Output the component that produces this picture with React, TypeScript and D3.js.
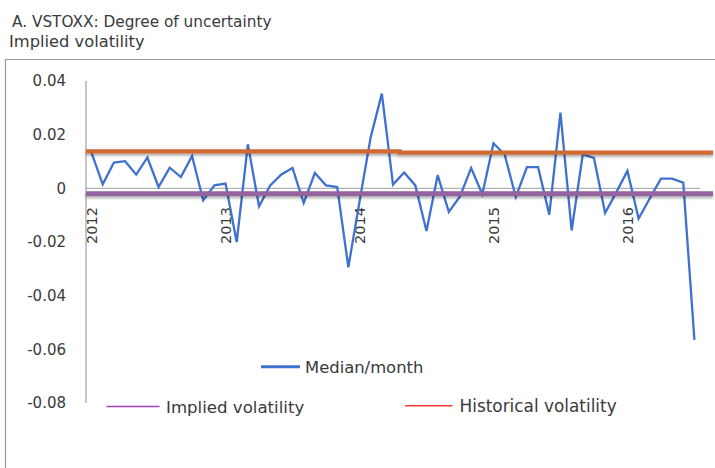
import React from "react";
import * as d3 from "d3";

const months = [
  "2012-01","2012-02","2012-03","2012-04","2012-05","2012-06","2012-07","2012-08","2012-09","2012-10","2012-11","2012-12",
  "2013-01","2013-02","2013-03","2013-04","2013-05","2013-06","2013-07","2013-08","2013-09","2013-10","2013-11","2013-12",
  "2014-01","2014-02","2014-03","2014-04","2014-05","2014-06","2014-07","2014-08","2014-09","2014-10","2014-11","2014-12",
  "2015-01","2015-02","2015-03","2015-04","2015-05","2015-06","2015-07","2015-08","2015-09","2015-10","2015-11","2015-12",
  "2016-01","2016-02","2016-03","2016-04","2016-05","2016-06","2016-07",
];

const yearTicks = ["2012", "2013", "2014", "2015", "2016"];

const medianMonth = [
  0.0132, 0.0015, 0.0096, 0.0101, 0.0051, 0.0115, 0.0005, 0.0077, 0.0042, 0.0121, -0.0045, 0.0011,
  0.0018, -0.0200, 0.0164, -0.0067, 0.0011, 0.0052, 0.0076, -0.0055, 0.0057, 0.0011, 0.0005, -0.0294,
  -0.0050, 0.0190, 0.0353, 0.0014, 0.0059, 0.0011, -0.0159, 0.0049, -0.0088, -0.0030, 0.0076, -0.0022,
  0.0168, 0.0126, -0.0032, 0.0079, 0.0079, -0.0098, 0.0282, -0.0157, 0.0126, 0.0113, -0.0092, -0.0015,
  0.0065, -0.0113, -0.0038, 0.0036, 0.0036, 0.0021, -0.0565,
];

const impliedVol = [
  -0.002, -0.002, -0.002, -0.002, -0.002, -0.002, -0.002, -0.002, -0.002, -0.002, -0.002, -0.002,
  -0.002, -0.002, -0.002, -0.002, -0.002, -0.002, -0.002, -0.002, -0.002, -0.002, -0.002, -0.002,
  -0.002, -0.002, -0.002, -0.002, -0.002, -0.002, -0.002, -0.002, -0.002, -0.002, -0.002, -0.002,
  -0.002, -0.002, -0.002, -0.002, -0.002, -0.002, -0.002, -0.002, -0.002, -0.002, -0.002, -0.002,
  -0.002, -0.002, -0.002, -0.002, -0.002, -0.002, -0.002,
];

const historicalVol = [
  0.0138, 0.0138, 0.0138, 0.0138, 0.0138, 0.0138, 0.0138, 0.0138, 0.0138, 0.0138, 0.0138, 0.0138,
  0.0138, 0.0138, 0.0138, 0.0138, 0.0138, 0.0138, 0.0138, 0.0138, 0.0138, 0.0138, 0.0138, 0.0138,
  0.0138, 0.0138, 0.0138, 0.0133, 0.0133, 0.0133, 0.0133, 0.0133, 0.0133, 0.0133, 0.0133, 0.0133,
  0.0133, 0.0133, 0.0133, 0.0133, 0.0133, 0.0133, 0.0133, 0.0133, 0.0133, 0.0133, 0.0133, 0.0133,
  0.0133, 0.0133, 0.0133, 0.0133, 0.0133, 0.0133, 0.0133,
];

const yTicks = [0.04, 0.02, 0, -0.02, -0.04, -0.06, -0.08];
const yTickLabels = ["0.04", "0.02", "0", "-0.02", "-0.04", "-0.06", "-0.08"];

const FONT = "'DejaVu Sans', Verdana, sans-serif";
const TEXT = "#3a3a3a";

export default function App() {
  const W = 715;
  const H = 468;
  const x = d3.scaleBand<string>().domain(months).range([86, 700]);
  const xc = (m: string) => (x(m) ?? 0) + x.bandwidth() / 2;
  const x2 = d3.scalePoint<number>().domain(d3.range(months.length)).range([86, 713]);
  const y = d3.scaleLinear().domain([-0.08, 0.04]).range([403, 81]);

  const medianLine = d3
    .line<number>()
    .x((_, i) => xc(months[i]))
    .y((d) => y(d));
  const flatLine = d3
    .line<number>()
    .x((_, i) => x2(i) as number)
    .y((d) => y(d))
    .curve(d3.curveStepAfter);

  return (
    <svg
      width={W}
      height={H}
      style={{ position: "absolute", left: 0, top: 0, background: "#fff" }}
      fontFamily={FONT}
    >
      <defs>
        <filter id="shadow" filterUnits="userSpaceOnUse" x={0} y={0} width={W} height={H}>
          <feDropShadow dx="0" dy="2" stdDeviation="1.4" floodColor="#000" floodOpacity="0.35" />
        </filter>
      </defs>
      <rect x={0} y={0} width={W} height={H} fill="#fff" />
      <text x={12} y={26.5} fontSize={15.3} fill={TEXT}>
        A. VSTOXX: Degree of uncertainty
      </text>
      <text x={9} y={46.5} fontSize={16.3} fill={TEXT}>
        Implied volatility
      </text>

      {/* chart frame */}
      <path d={`M${W + 2},59.5 H5.5 V${H + 2}`} fill="none" stroke="#9a9a9a" strokeWidth={1.2} />

      {/* y axis */}
      <line x1={86} x2={86} y1={y(0.04)} y2={y(-0.08)} stroke="#a0a0a0" strokeWidth={1.2} />
      {yTicks.map((t, i) => (
        <text
          key={t}
          x={66}
          y={y(t)}
          dy="0.36em"
          textAnchor="end"
          fontSize={15}
          fill={TEXT}
        >
          {yTickLabels[i]}
        </text>
      ))}

      {/* zero axis */}
      <line x1={86} x2={700} y1={y(0)} y2={y(0)} stroke="#a0a0a0" strokeWidth={1} />

      {/* year labels */}
      {yearTicks.map((yr) => {
        const cx = xc(yr + "-01");
        return (
          <text
            key={yr}
            transform={`translate(${cx},207) rotate(-90)`}
            textAnchor="end"
            dy="0.36em"
            fontSize={14.5}
            fill={TEXT}
          >
            {yr}
          </text>
        );
      })}

      {/* median line */}
      <path
        d={medianLine(medianMonth) ?? ""}
        fill="none"
        stroke="#3f72cf"
        strokeWidth={2.3}
        strokeLinejoin="miter"
      />

      {/* implied & historical volatility */}
      <path
        d={flatLine(impliedVol) ?? ""}
        fill="none"
        stroke="#9463a0"
        strokeWidth={4.8}
        filter="url(#shadow)"
      />
      <path
        d={flatLine(historicalVol) ?? ""}
        fill="none"
        stroke="#d06a32"
        strokeWidth={4.3}
        filter="url(#shadow)"
      />

      {/* legend */}
      <line x1={261} x2={300} y1={366.7} y2={366.7} stroke="#3f72cf" strokeWidth={3} />
      <text x={305} y={373} fontSize={16.4} fill={TEXT}>
        Median/month
      </text>
      <line x1={106.5} x2={159.5} y1={406.5} y2={406.5} stroke="#a43fc0" strokeWidth={1.5} />
      <text x={166} y={412.5} fontSize={16.6} fill={TEXT}>
        Implied volatility
      </text>
      <line x1={405} x2={452.5} y1={405.8} y2={405.8} stroke="#ff3a3a" strokeWidth={1.5} />
      <text x={459.5} y={412} fontSize={16.9} fill={TEXT}>
        Historical volatility
      </text>
    </svg>
  );
}
